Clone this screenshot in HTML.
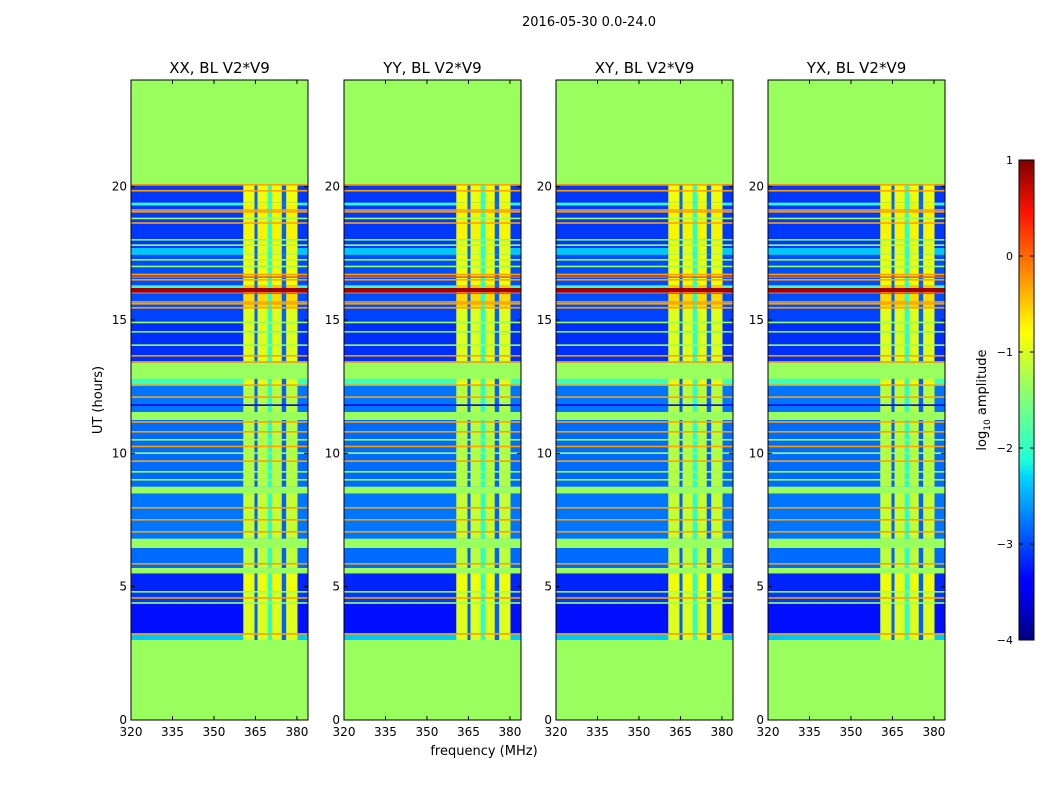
<!DOCTYPE html>
<html><head><meta charset="utf-8"><style>
body{margin:0;background:#fff}
svg{display:block;font-family:"DejaVu Sans","Liberation Sans",sans-serif}
</style></head><body>
<svg id="fig" width="1050" height="800" viewBox="0 0 1050 800">
<defs>
<linearGradient id="jet" x1="0" y1="1" x2="0" y2="0">
<stop offset="0" stop-color="#00007f"/><stop offset="0.11" stop-color="#0000ff"/><stop offset="0.125" stop-color="#0000ff"/>
<stop offset="0.34" stop-color="#00d4ff"/><stop offset="0.375" stop-color="#1fffd7"/><stop offset="0.5" stop-color="#7dff7a"/>
<stop offset="0.64" stop-color="#ffff00"/><stop offset="0.66" stop-color="#fff000"/><stop offset="0.89" stop-color="#ff1300"/><stop offset="1" stop-color="#800000"/>
</linearGradient>
</defs>
<text x="589" y="26" font-size="13" text-anchor="middle">2016-05-30 0.0-24.0</text>
<text x="484" y="755" font-size="13" text-anchor="middle">frequency (MHz)</text>
<text x="102" y="400" font-size="13" text-anchor="middle" transform="rotate(-90 102 400)">UT (hours)</text>
<g id="panels"></g>
<g>
<rect x="1019" y="160" width="15" height="480" fill="url(#jet)" stroke="#000" stroke-width="1"/>
<text x="986" y="400" font-size="13" text-anchor="middle" transform="rotate(-90 986 400)">log<tspan font-size="9" dy="4">10</tspan><tspan dy="-4"> amplitude</tspan></text>
<g id="cbticks"></g>
</g>
</svg>
<script>
const FILL=-1.32;
const segStart=[3.0,3.25,4.4,4.8,5.5,5.7,6.45,6.8,8.5,8.75,11.25,11.55,12.55,12.8,13.4,14.9,15.45,16.05,16.2,16.3,17.45,17.7,19.3,19.4];
const segEnd  =[3.25,4.4,4.8,5.5,5.7,6.45,6.8,8.5,8.75,11.25,11.55,12.55,12.8,13.4,14.9,15.45,16.05,16.2,16.3,17.45,17.7,19.3,19.4,20.1];
const segBg   =[-2.4,-3.3,-3.1,-3.2,FILL,-2.85,FILL,-2.8,FILL,-2.85,FILL,-2.8,-1.9,FILL,-3.15,-3.05,-3.0,0.85,-1.9,-3.0,-2.4,-3.1,-2.0,-3.1];
const segBand =[-0.9,-0.9,-0.9,-0.8,FILL,-1.1,FILL,-1.05,FILL,-1.15,FILL,-1.15,-0.9,FILL,-0.9,-0.9,-0.6,0.85,-0.5,-0.8,-0.9,-0.75,-0.8,-0.8];
const lineHour=[3.22,4.38,4.57,4.8,5.85,7.05,7.5,7.95,9.0,9.3,9.7,10.0,10.25,10.5,10.8,11.17,11.8,12.1,12.55,13.42,13.65,14.05,14.55,14.9,15.45,15.6,15.67,16.0,16.5,16.6,16.7,17.0,17.25,17.8,18.0,18.63,18.8,19.05,19.12,19.84,20.06];
const lineVal =[-0.3,-1.3,-0.3,-1.3,-0.3,-0.3,-0.3,-0.3,-1.3,-1.3,-0.3,-1.3,-0.3,-1.3,-0.3,-0.3,-3.5,-0.3,-0.3,-0.3,-0.3,-1.3,-1.5,-1.3,-0.3,-0.3,-0.3,0.2,-0.3,0.1,-0.3,-1.3,-1.3,-1.3,-1.5,-0.3,-1.3,-0.3,-0.3,-0.3,-0.3];
const stripeFreq=[365.2,370.2,375.3];
const stripeWidth=[1.1,1.6,1.6];
const stripeVal=[-2.9,-2.0,-2.9];
const bandLo=360.6, bandHi=380.2;
const panelTitles=["XX, BL V2*V9","YY, BL V2*V9","XY, BL V2*V9","YX, BL V2*V9"];
const xTicks=[320,335,350,365,380];
const yTicks=[0,5,10,15,20];
const cbTicks=[1,0,-1,-2,-3,-4];
const panelX=[131,344,556,768];
const PW=177,PT=80,PB=720,F0=320,F1=384,H0=0,H1=24;

function jet(v){const t=Math.max(0,Math.min(1,(v+4)/5));
 function seg(p){for(let i=0;i<p.length-1;i++){if(t<=p[i+1][0]){const a=p[i],b=p[i+1];return a[1]+(b[1]-a[1])*(t-a[0])/(b[0]-a[0]);}}return p[p.length-1][1];}
 const r=seg([[0,0],[0.35,0],[0.66,1],[0.89,1],[1,0.5]]),g=seg([[0,0],[0.125,0],[0.375,1],[0.64,1],[0.91,0],[1,0]]),b=seg([[0,0.5],[0.11,1],[0.34,1],[0.65,0],[1,0]]);
 return `rgb(${Math.round(r*255)},${Math.round(g*255)},${Math.round(b*255)})`;}
const NS="http://www.w3.org/2000/svg";
function mk(tag,at,parent){const e=document.createElementNS(NS,tag);for(const k in at)e.setAttribute(k,at[k]);parent.appendChild(e);return e;}
const root=document.getElementById('panels');
panelX.forEach((px,pi)=>{
 const xs=f=>px+(f-F0)/(F1-F0)*PW;
 const ys=h=>PB-(h-H0)/(H1-H0)*(PB-PT);
 const g=mk('g',{},root);
 
 
 const bg=mk('rect',{x:px,y:PT,width:PW,height:PB-PT,fill:jet(FILL)},g);
 
 
 for(let i=0;i<segStart.length;i++){
  const y0=ys(segEnd[i]),h=ys(segStart[i])-y0;
  const r=mk('rect',{x:px,y:y0,width:PW,height:h,fill:jet(segBg[i])},g);
  
  
  const b=mk('rect',{x:xs(bandLo),y:y0,width:xs(bandHi)-xs(bandLo),height:h,fill:jet(segBand[i])},g);
  
  
  if(segBg[i]!==FILL && segBg[i]<0){
   for(let s=0;s<stripeFreq.length;s++){
    const st=mk('rect',{x:xs(stripeFreq[s]-stripeWidth[s]/2),y:y0,width:xs(stripeWidth[s])-xs(0),height:h,fill:jet(stripeVal[s])},g);
    
    
   }
  }
 }
 for(let i=0;i<lineHour.length;i++){
  const l=mk('rect',{x:px,y:ys(lineHour[i])-1,width:PW,height:1.6,fill:jet(lineVal[i])},g);
  
  
 }
 const fr=mk('rect',{x:px,y:PT,width:PW,height:PB-PT,fill:'none',stroke:'#000','stroke-width':1},g);
 
 
 const t=mk('text',{x:px+PW/2,y:73,'font-size':15,'text-anchor':'middle'},g);
 t.textContent=panelTitles[pi];
 
 
 xTicks.forEach(f=>{const x=xs(f);
  mk('line',{x1:x,x2:x,y1:PB,y2:PB-4,stroke:'#000'},g);mk('line',{x1:x,x2:x,y1:PT,y2:PT+4,stroke:'#000'},g);
  const tx=mk('text',{x:x,y:PB+16,'font-size':12,'text-anchor':'middle'},g);tx.textContent=f;
  
  });
 yTicks.forEach(h=>{const y=ys(h);
  mk('line',{x1:px,x2:px+4,y1:y,y2:y,stroke:'#000'},g);mk('line',{x1:px+PW,x2:px+PW-4,y1:y,y2:y,stroke:'#000'},g);
  const ty=mk('text',{x:px-4,y:y+4,'font-size':12,'text-anchor':'end'},g);ty.textContent=h;
  
  });
});
const cb=document.getElementById('cbticks');
cbTicks.forEach(v=>{const y=640-(v+4)/5*480;
 mk('line',{x1:1019,x2:1023,y1:y,y2:y,stroke:'#000'},cb);mk('line',{x1:1034,x2:1030,y1:y,y2:y,stroke:'#000'},cb);
 const t=mk('text',{x:1013,y:y+4,'font-size':11,'text-anchor':'end'},cb);t.textContent=v<0?'\u2212'+(-v):v;
 
 });
</script>
</body></html>
